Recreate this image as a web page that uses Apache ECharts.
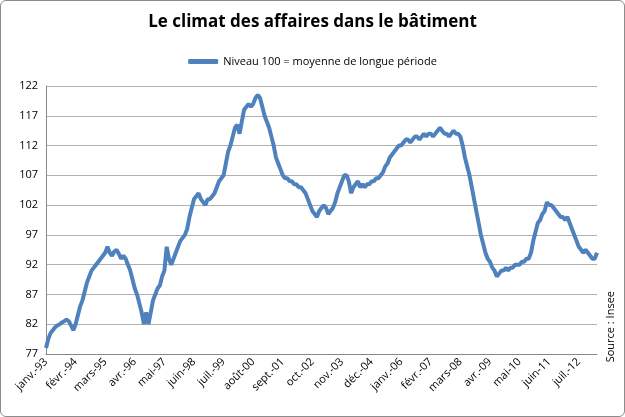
<!DOCTYPE html>
<html>
<head>
<meta charset="utf-8">
<script src="https://cdn.jsdelivr.net/npm/echarts@6/dist/echarts.min.js"></script>
<style>
html,body{margin:0;padding:0;background:#fff;}
#chart{width:623px;height:415px;border:1px solid #8c8c8c;border-radius:6px;}
</style>
</head>
<body>
<div id="chart"></div>
<script>
var moisNoms = ['janv.', 'févr.', 'mars', 'avr.', 'mai', 'juin', 'juil.', 'août', 'sept.', 'oct.', 'nov.', 'déc.'];
var anneeDebut = 1993;

// indicateur mensuel, janv. 1993 -> mars 2013
var niveau = [
    78, 79.5, 80.5, 81, 81.5, 81.8, 82, 82.3, 82.5, 82.8, 82.5, 81.8,
    81, 82, 83.5, 85, 86, 87.5, 89, 90, 91, 91.5, 92, 92.5,
    93, 93.5, 94, 95, 94, 93.5, 94.2, 94.5, 93.8, 93, 93.5, 93,
    92, 91, 89.5, 88, 87, 85.5, 84, 82, 84, 82, 84, 86,
    87, 88, 88.5, 90, 91, 95, 93, 92, 93, 94, 95, 96,
    96.5, 97, 98, 100, 101.5, 103, 103.5, 104, 103, 102.5, 102, 103,
    103, 103.5, 104, 105, 106, 106.5, 107, 109, 111, 112, 113.5, 115,
    115.5, 114, 116, 118, 118.5, 119, 118.5, 119, 120, 120.5, 120, 118.5,
    117, 116, 115, 113.5, 112, 110, 109, 108, 107, 106.5, 106.5, 106,
    106, 105.5, 105.5, 105, 105, 104.5, 104, 103, 102, 101, 100.5, 100,
    101, 101.5, 102, 101.5, 100.5, 101, 101.5, 102.5, 104, 105, 106, 107,
    107, 106, 104, 105, 105.5, 106, 105, 105.5, 105, 105.5, 105.5, 106,
    106, 106.5, 106.5, 107, 107.5, 108.5, 109, 110, 110.5, 111, 111.5, 112,
    112, 112.5, 113, 113, 112.5, 113, 113.5, 113.5, 113, 113.5, 114, 113.5,
    114, 114, 113.5, 114, 114.5, 115, 114.5, 114, 114, 113.5, 114, 114.5,
    114, 114, 113.5, 112, 110, 108.5, 107, 105, 103, 101, 99, 97,
    95.5, 94, 93, 92.5, 91.5, 91, 90, 90.5, 91, 91, 91.5, 91,
    91.5, 91.5, 92, 92, 92, 92.5, 92.5, 93, 93, 94, 96, 97.5,
    99, 99.5, 100.5, 101, 102.5, 102, 102, 101.5, 101, 100.5, 100, 100,
    99.5, 100, 99, 98, 97, 96, 95, 94.5, 94, 94.5, 94, 93.5,
    93, 93, 94
];

var mois = [];
for (var i = 0; i < niveau.length; i++) {
    var an = anneeDebut + Math.floor(i / 12);
    mois.push(moisNoms[i % 12] + '-' + String(an % 100).padStart(2, '0'));
}

var myChart = echarts.init(document.getElementById('chart'));
var option = {
    animation: false,
    textStyle: {fontFamily: 'Open Sans'},
    title: {
        text: 'Le climat des affaires dans le bâtiment',
        left: 'center',
        top: 8,
        textStyle: {fontSize: 17, fontWeight: 'bold', color: '#000', fontFamily: 'Open Sans'}
    },
    legend: {
        data: ['Niveau 100 = moyenne de longue période'],
        top: 50,
        left: 'center',
        itemWidth: 30,
        itemHeight: 5,
        icon: 'roundRect',
        textStyle: {fontSize: 11, color: '#000'}
    },
    graphic: [{
        type: 'text',
        right: 8,
        top: 290,
        rotation: Math.PI / 2,
        style: {text: 'Source : Insee', fontSize: 11, fill: '#000', fontFamily: 'Open Sans'}
    }],
    grid: {left: 45, right: 27, top: 85, bottom: 62},
    xAxis: {
        type: 'category',
        boundaryGap: false,
        data: mois,
        axisLine: {lineStyle: {color: '#888'}},
        axisTick: {show: false},
        axisLabel: {interval: 12, rotate: 45, fontSize: 11, color: '#000', margin: 6},
        splitLine: {show: false}
    },
    yAxis: {
        type: 'value',
        min: 77,
        max: 122,
        interval: 5,
        axisLine: {show: true, lineStyle: {color: '#888'}},
        axisTick: {show: false},
        axisLabel: {fontSize: 11, color: '#000'},
        splitLine: {lineStyle: {color: '#b0b0b0'}}
    },
    series: [{
        name: 'Niveau 100 = moyenne de longue période',
        type: 'line',
        data: niveau,
        showSymbol: false,
        lineStyle: {width: 4, color: '#4f81bd'},
        itemStyle: {color: '#4f81bd'}
    }]
};
myChart.setOption(option);
</script>
</body>
</html>
